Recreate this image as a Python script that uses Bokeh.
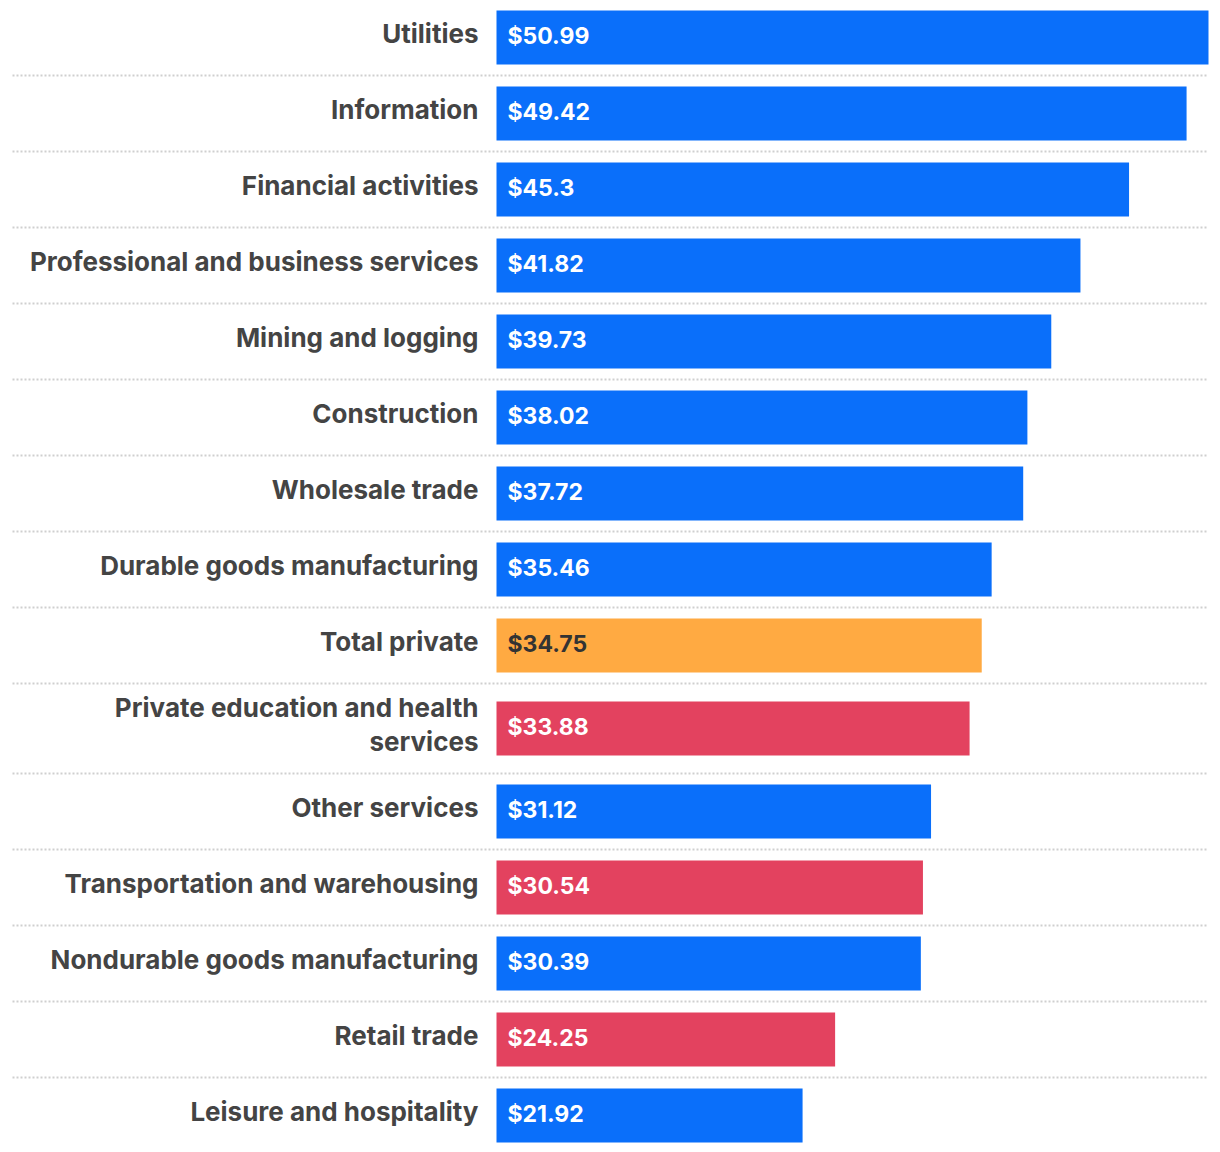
from bokeh.plotting import figure
from bokeh.models import Range1d, ColumnDataSource
from bokeh.embed import file_html
from bokeh.resources import INLINE
from bokeh.core.properties import value

# ---- data ----
categories = [
    "Utilities", "Information", "Financial activities",
    "Professional and business services", "Mining and logging", "Construction",
    "Wholesale trade", "Durable goods manufacturing", "Total private",
    "Private education and health\nservices", "Other services",
    "Transportation and warehousing", "Nondurable goods manufacturing",
    "Retail trade", "Leisure and hospitality",
]
wages = [50.99, 49.42, 45.3, 41.82, 39.73, 38.02, 37.72, 35.46, 34.75,
         33.88, 31.12, 30.54, 30.39, 24.25, 21.92]
value_labels = ["$50.99", "$49.42", "$45.3", "$41.82", "$39.73", "$38.02",
                "$37.72", "$35.46", "$34.75", "$33.88", "$31.12", "$30.54",
                "$30.39", "$24.25", "$21.92"]
groups = ["blue", "blue", "blue", "blue", "blue", "blue", "blue", "blue",
          "total", "red", "blue", "red", "blue", "red", "blue"]

# ---- styles ----
palette = {"blue": "#0A6FFA", "red": "#E3425F", "total": "#FFAA42"}
value_text_color = {"blue": "#FFFFFF", "red": "#FFFFFF", "total": "#333333"}
W, H = 1212, 1150
bar_left_px = 496
bar_right_px = 1208
scale = (bar_right_px - bar_left_px) / max(wages)   # px per dollar

# ---- layout of rows (pixel units, y downward) ----
bar_h = 54
row_tops, row_hs = [], []
y = -1
for c in categories:
    n = c.count("\n") + 1
    h = 76 + 14 * (n - 1)
    row_tops.append(y)
    row_hs.append(h)
    y += h
centers = [t + h / 2 for t, h in zip(row_tops, row_hs)]

p = figure(width=W, height=H, output_backend="svg", toolbar_location=None,
           x_range=Range1d(-bar_left_px / scale, (W - bar_left_px) / scale),
           y_range=Range1d(H, 0), min_border=0)
p.axis.visible = False
p.grid.visible = False
p.outline_line_color = None
p.background_fill_color = "white"

# separators
sep_y = [t + h for t, h in zip(row_tops[:-1], row_hs[:-1])]
p.segment(x0=[(12 - bar_left_px) / scale] * len(sep_y), x1=[(1208 - bar_left_px) / scale] * len(sep_y),
          y0=sep_y, y1=sep_y, line_color="#cfcfcf", line_width=2, line_dash="2 2")

src = ColumnDataSource(dict(
    right=wages, y=centers, color=[palette[g] for g in groups],
    lab=value_labels, tcol=[value_text_color[g] for g in groups],
    ly=[c - 1.5 for c in centers],
))
p.hbar(y="y", left=0, right="right", height=bar_h, fill_color="color",
       line_color=None, source=src)
p.text(x=11 / scale, y="ly", text="lab", text_color="tcol", source=src,
       text_font=value("Inter"), text_font_style="bold", text_font_size="23px",
       text_baseline="middle", text_align="left")

# category labels (split multi-line)
lx, ly, lt = [], [], []
for c, cy in zip(categories, centers):
    lines = c.split("\n")
    n = len(lines)
    for i, ln in enumerate(lines):
        lx.append(-18 / scale)
        ly.append(cy - 4 + (i - (n - 1) / 2) * 34)
        lt.append(ln)
p.text(x=lx, y=ly, text=lt, text_color="#444444", text_font=value("Inter"),
       text_font_style="bold", text_font_size="26px", text_baseline="middle",
       text_align="right")

open("out.html", "w").write(file_html(p, INLINE))
